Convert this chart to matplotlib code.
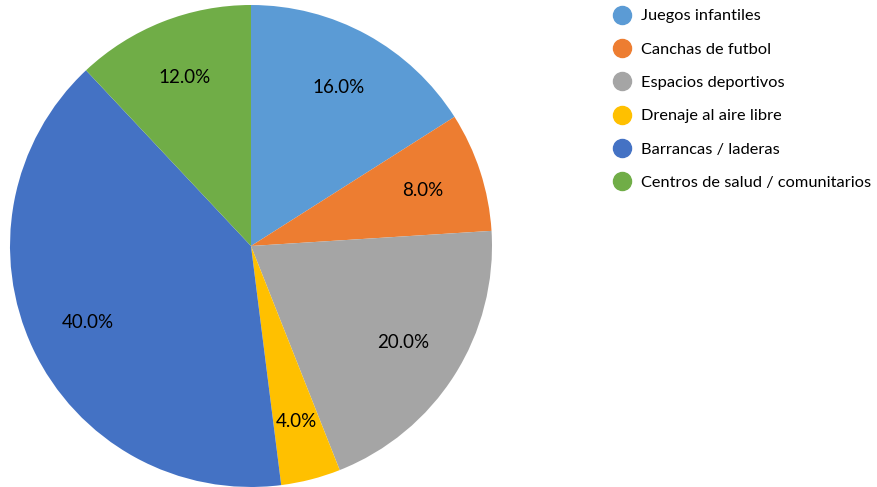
import matplotlib.pyplot as plt
from matplotlib.lines import Line2D

plt.rcParams['font.family'] = ['Lato', 'DejaVu Sans']

# porcentaje por tipo de espacio
labels = ["Juegos infantiles", "Canchas de futbol", "Espacios deportivos",
          "Drenaje al aire libre", "Barrancas / laderas",
          "Centros de salud / comunitarios"]
values = [16.0, 8.0, 20.0, 4.0, 40.0, 12.0]
colors = ["#5B9BD5", "#ED7D31", "#A5A5A5", "#FFC000", "#4472C4", "#70AD47"]

fig = plt.figure(figsize=(8.77, 4.87), dpi=100)
ax = fig.add_axes([10 / 877, 0, 482 / 877, 482 / 487])

ax.pie(values, colors=colors, startangle=90, counterclock=False,
       autopct="%.1f%%", pctdistance=0.75, radius=1,
       textprops={"fontsize": 13.5, "color": "black"})
ax.set_xlim(-1, 1)
ax.set_ylim(-1, 1)
ax.set_aspect("equal")

handles = [Line2D([], [], marker="o", linestyle="", markersize=13,
                  markerfacecolor=c, markeredgecolor=c) for c in colors]
fig.legend(handles, labels, loc="upper left", bbox_to_anchor=(603 / 877, 1.0),
           frameon=False, fontsize=11.8, labelspacing=1.15, handletextpad=0.55,
           handlelength=1.2, borderaxespad=0.15)

fig.savefig("out.png", dpi=100)
